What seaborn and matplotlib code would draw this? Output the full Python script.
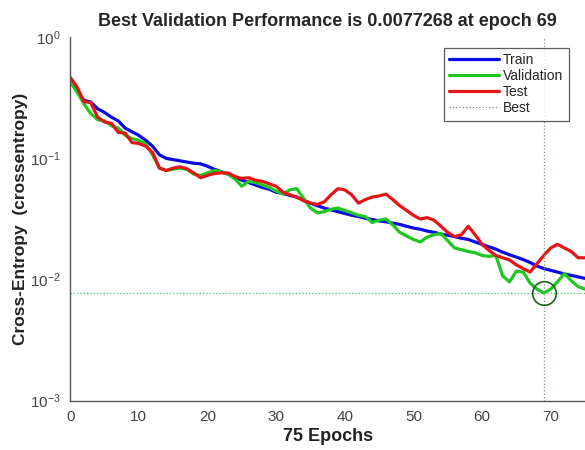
import numpy as np
import pandas as pd
import matplotlib
matplotlib.use('Agg')
import matplotlib.pyplot as plt
from matplotlib.lines import Line2D
import seaborn as sns

# loss values, one per epoch (0..75)
train = [0.447, 0.355, 0.302, 0.292, 0.257, 0.240, 0.219, 0.204, 0.178, 0.166,
         0.155, 0.141, 0.126, 0.107, 0.100, 0.0977, 0.0955, 0.0933, 0.0912, 0.0902,
         0.0861, 0.0813, 0.0776, 0.0741, 0.0700, 0.0661, 0.0631, 0.0603, 0.0575, 0.0556,
         0.0525, 0.0513, 0.0495, 0.0479, 0.0452, 0.0427, 0.0407, 0.0389, 0.0376, 0.0363,
         0.0351, 0.0339, 0.0331, 0.0320, 0.0313, 0.0305, 0.0299, 0.0292, 0.0285, 0.0275,
         0.0266, 0.0260, 0.0251, 0.0245, 0.0237, 0.0232, 0.0226, 0.0219, 0.0214, 0.0204,
         0.0195, 0.0186, 0.0178, 0.0168, 0.0160, 0.0153, 0.0146, 0.0138, 0.0129, 0.0123,
         0.0119, 0.0115, 0.0111, 0.0108, 0.0105, 0.0102]
validation = [0.427, 0.355, 0.282, 0.234, 0.209, 0.204, 0.186, 0.178, 0.155, 0.146,
              0.141, 0.132, 0.107, 0.0832, 0.0794, 0.0813, 0.0832, 0.0813, 0.0741, 0.0724,
              0.0759, 0.0794, 0.0776, 0.0741, 0.0676, 0.0589, 0.0646, 0.0631, 0.0603, 0.0575,
              0.0537, 0.0507, 0.0550, 0.0562, 0.0468, 0.0389, 0.0355, 0.0363, 0.0380, 0.0389,
              0.0372, 0.0355, 0.0339, 0.0331, 0.0295, 0.0309, 0.0316, 0.0282, 0.0245, 0.0229,
              0.0214, 0.0204, 0.0224, 0.0234, 0.0240, 0.0209, 0.0182, 0.0176, 0.0170, 0.0166,
              0.0158, 0.0155, 0.0158, 0.0107, 0.00955, 0.0117, 0.0115, 0.00933, 0.00832, 0.0077268,
              0.00832, 0.00955, 0.0112, 0.00977, 0.00871, 0.00832]
test = [0.468, 0.389, 0.295, 0.288, 0.219, 0.200, 0.195, 0.164, 0.162, 0.135,
        0.133, 0.126, 0.112, 0.0832, 0.0794, 0.0832, 0.0851, 0.0822, 0.0759, 0.0692,
        0.0724, 0.0750, 0.0759, 0.0759, 0.0708, 0.0684, 0.0692, 0.0661, 0.0646, 0.0617,
        0.0589, 0.0525, 0.0501, 0.0479, 0.0447, 0.0427, 0.0417, 0.0437, 0.0501, 0.0562,
        0.0550, 0.0501, 0.0427, 0.0457, 0.0479, 0.0490, 0.0507, 0.0457, 0.0407, 0.0372,
        0.0339, 0.0316, 0.0324, 0.0309, 0.0275, 0.0245, 0.0226, 0.0234, 0.0275, 0.0234,
        0.0195, 0.0174, 0.0158, 0.0151, 0.0145, 0.0132, 0.0123, 0.0115, 0.0135, 0.0158,
        0.0182, 0.0195, 0.0182, 0.0170, 0.0151, 0.0151]
best_epoch = 69
best_value = 0.0077268
x_ticks = [0, 10, 20, 30, 40, 50, 60, 70]

epochs = np.arange(len(train))
df = pd.DataFrame({'epoch': np.tile(epochs, 3),
                   'loss': train + validation + test,
                   'set': ['Train'] * len(train) + ['Validation'] * len(validation) + ['Test'] * len(test)})

sns.set_style('white')
plt.rcParams['font.family'] = ['Liberation Sans', 'DejaVu Sans']
plt.rcParams['xtick.direction'] = 'in'
plt.rcParams['ytick.direction'] = 'in'

colors = {'Train': '#0a0ae6', 'Validation': '#1ec81e', 'Test': '#e61414'}

fig = plt.figure(figsize=(5.85, 4.5), dpi=100)
ax = fig.add_axes([0.12, 0.11, 0.88, 0.807])

sns.lineplot(data=df, x='epoch', y='loss', hue='set', palette=colors,
             hue_order=['Train', 'Validation', 'Test'], linewidth=2.3, legend=False, ax=ax)

ax.axvline(best_epoch, color='#7a9a7a', linestyle=':', linewidth=0.9)
ax.axhline(best_value, color='#4cbf6c', linestyle=':', linewidth=0.9)
ax.plot([best_epoch], [best_value], 'o', markersize=17, markerfacecolor='none',
        markeredgecolor='#1d5e1d', markeredgewidth=1.2)

ax.set_yscale('log')
ax.set_ylim(1e-3, 1)
ax.set_xlim(0, 75)
ax.set_xticks(x_ticks)
ax.tick_params(axis='both', which='major', length=5, colors='#555555',
               labelcolor='#444444', labelsize=11, pad=7)
ax.tick_params(axis='y', which='minor', length=3, colors='#555555')
for s in ['top', 'right']:
    ax.spines[s].set_visible(False)
for s in ['left', 'bottom']:
    ax.spines[s].set_color('#555555')
    ax.spines[s].set_linewidth(1.0)

ax.set_title('Best Validation Performance is 0.0077268 at epoch 69',
             fontsize=13, fontweight='bold', pad=8)
ax.set_xlabel('75 Epochs', fontsize=13, fontweight='bold', color='#222222', labelpad=3)
ax.set_ylabel('Cross-Entropy  (crossentropy)', fontsize=12.5, fontweight='bold',
              color='#222222', labelpad=1)

handles = [Line2D([], [], color=colors['Train'], lw=2.3),
           Line2D([], [], color=colors['Validation'], lw=2.3),
           Line2D([], [], color=colors['Test'], lw=2.3),
           Line2D([], [], color='#888888', lw=0.9, linestyle=':')]
leg = ax.legend(handles, ['Train', 'Validation', 'Test', 'Best'], loc='upper right',
                bbox_to_anchor=(0.969, 0.972), borderaxespad=0, fontsize=10,
                handlelength=3.6, handletextpad=0.3, labelspacing=0.15,
                frameon=True, fancybox=False, borderpad=0.4)
leg.get_frame().set_edgecolor('#333333')
leg.get_frame().set_linewidth(0.9)

fig.savefig('out.png', dpi=100)
